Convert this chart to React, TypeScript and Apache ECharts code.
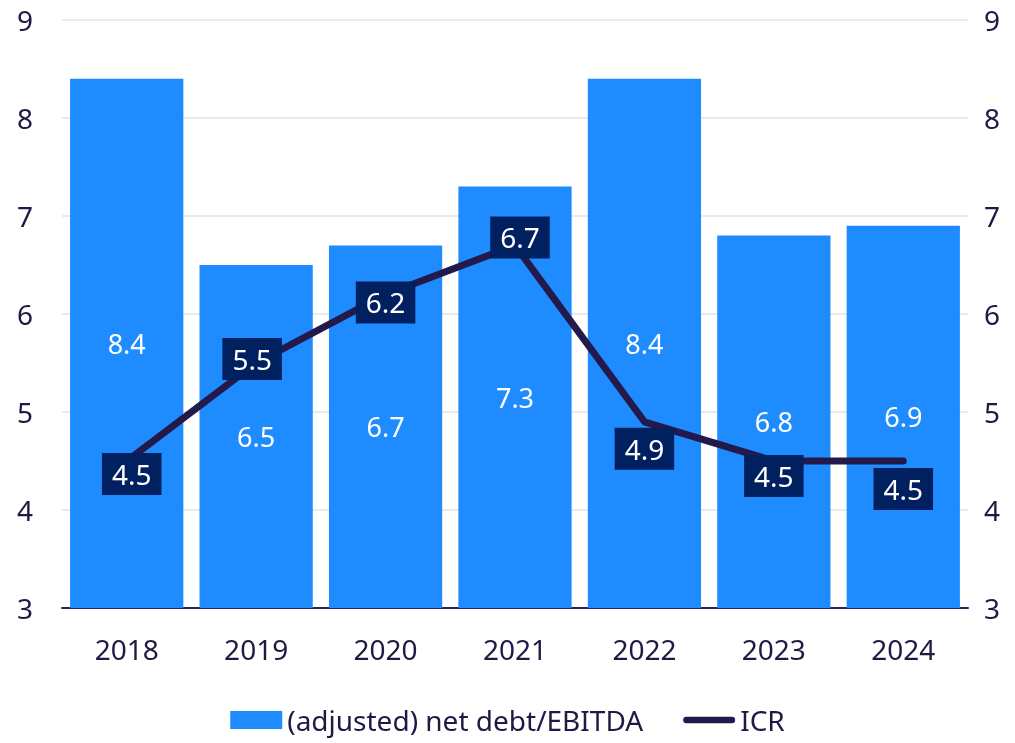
import React, { useEffect, useRef } from "react";
import * as echarts from "echarts";

const years = ["2018", "2019", "2020", "2021", "2022", "2023", "2024"];
const netDebtEbitda = [8.4, 6.5, 6.7, 7.3, 8.4, 6.8, 6.9];
const icr = [4.5, 5.5, 6.2, 6.7, 4.9, 4.5, 4.5];
const barName = "(adjusted) net debt/EBITDA";
const lineName = "ICR";

// label placement offsets (style only)
const icrLabelOffsets = [
  [5, 13],
  [-4, -4],
  [0, 8],
  [5, -8],
  [0, 27],
  [0, 15],
  [0, 28],
];

const FONT = "'Noto Sans', 'Liberation Sans', sans-serif";
const NAVY = "#1f1a44";
const LINE_COLOR = "#231a4b";

export default function App() {
  const ref = useRef<HTMLDivElement>(null);
  useEffect(() => {
    if (!ref.current) return;
    const chart = echarts.init(ref.current, null, { renderer: "svg" });
    const yAxisBase = {
      type: "value",
      min: 3,
      max: 9,
      interval: 1,
      axisLine: { show: false },
      axisTick: { show: false },
      splitLine: { lineStyle: { color: "#e3e3e3", width: 1.5 } },
    };
    chart.setOption({
      animation: false,
      textStyle: { fontFamily: FONT },
      grid: { left: 62, right: 47, top: 20, bottom: 135, containLabel: false },
      legend: {
        bottom: 4,
        left: "center",
        itemWidth: 52,
        itemHeight: 18,
        itemGap: 40,
        textStyle: { fontSize: 28, color: NAVY, fontFamily: FONT },
        data: [
          { name: barName, icon: "rect" },
          {
            name: lineName,
            icon: "path://M3.5,0 H52.5 A3.5,3.5 0 0 1 52.5,7 H3.5 A3.5,3.5 0 0 1 3.5,0 Z",
            itemStyle: { color: LINE_COLOR },
          },
        ],
      },
      xAxis: {
        type: "category",
        data: years,
        axisTick: { show: false },
        axisLine: { lineStyle: { color: "#2a2456", width: 2 } },
        axisLabel: { fontSize: 28, color: NAVY, margin: 27, fontFamily: FONT },
      },
      yAxis: [
        {
          ...yAxisBase,
          position: "left",
          axisLabel: { fontSize: 28, color: NAVY, margin: 29, fontFamily: FONT },
        },
        {
          ...yAxisBase,
          position: "right",
          splitLine: { show: false },
          axisLabel: { fontSize: 28, color: NAVY, margin: 16, fontFamily: FONT },
        },
      ],
      series: [
        {
          name: barName,
          type: "bar",
          data: netDebtEbitda,
          barCategoryGap: "12.5%",
          itemStyle: { color: "#1e8cff" },
          label: {
            show: true,
            position: "inside",
            color: "#ffffff",
            fontSize: 27,
            fontFamily: FONT,
          },
        },
        {
          name: lineName,
          type: "line",
          yAxisIndex: 1,
          z: 5,
          symbol: "circle",
          symbolSize: 2,
          showSymbol: true,
          itemStyle: { color: LINE_COLOR },
          lineStyle: { color: LINE_COLOR, width: 7, cap: "round", join: "round" },
          data: icr.map((v, i) => ({
            value: v,
            label: { offset: icrLabelOffsets[i] },
          })),
          label: {
            show: true,
            position: "inside",
            color: "#ffffff",
            fontSize: 28,
            fontFamily: FONT,
            backgroundColor: "#002060",
            padding: [7, 10],
          },
        },
      ],
    });
    return () => chart.dispose();
  }, []);
  return (
    <div
      ref={ref}
      style={{ position: "fixed", left: 0, top: 0, width: 1015, height: 743 }}
    />
  );
}
